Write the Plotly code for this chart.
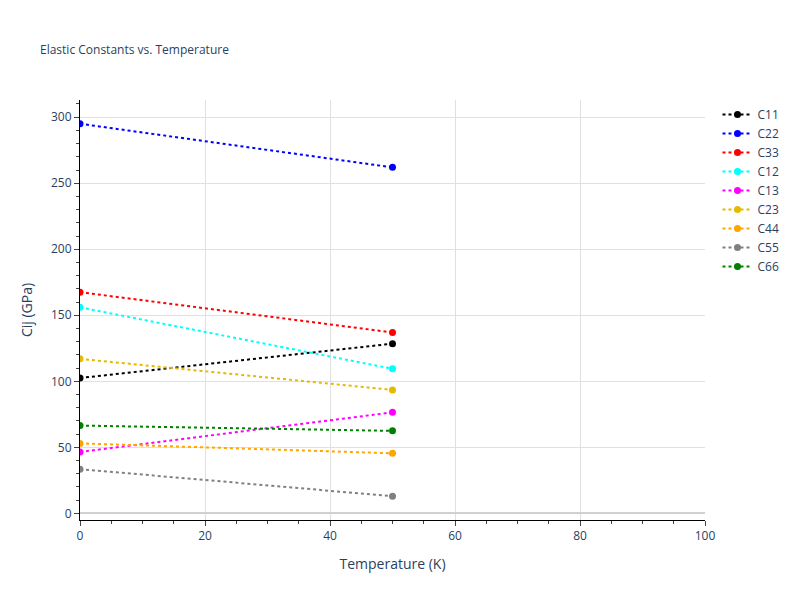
import plotly.graph_objects as go

temps = [0, 50]
names = ["C11", "C22", "C33", "C12", "C13", "C23", "C44", "C55", "C66"]
c11 = [102.5, 128.5]
c22 = [295, 262]
c33 = [167.5, 137]
c12 = [156, 109.5]
c13 = [46.5, 76.5]
c23 = [117, 93.5]
c44 = [53, 45.5]
c55 = [33.5, 13]
c66 = [66.5, 62.5]
series = [c11, c22, c33, c12, c13, c23, c44, c55, c66]
colors = ["black", "blue", "red", "cyan", "magenta", "#e6b800", "orange", "grey", "green"]

fig = go.Figure()
for n, v, c in zip(names, series, colors):
    fig.add_trace(go.Scatter(x=temps, y=v, name=n, mode="lines+markers",
                             line=dict(color=c, dash="dot", width=2), marker=dict(color=c, size=7)))

ax = dict(showline=True, linecolor="black", ticks="outside", gridcolor="#e0e0e0",
          zeroline=True, zerolinecolor="#d0d0d0", zerolinewidth=2)
fig.update_layout(
    width=800, height=600, plot_bgcolor="white", paper_bgcolor="white",
    title=dict(text="Elastic Constants vs. Temperature", font=dict(size=12), x=0.04),
    margin=dict(l=72, r=103, t=92, b=88),
    xaxis=dict(title="Temperature (K)", range=[0, 100], dtick=20, minor=dict(dtick=5, ticks="outside"), **ax),
    yaxis=dict(title="Cij (GPa)", range=[-5, 313], dtick=50, minor=dict(dtick=10, ticks="outside"), **ax),
    legend=dict(x=1.02, y=1, font=dict(size=12)),
)
fig.write_html("out.html")
